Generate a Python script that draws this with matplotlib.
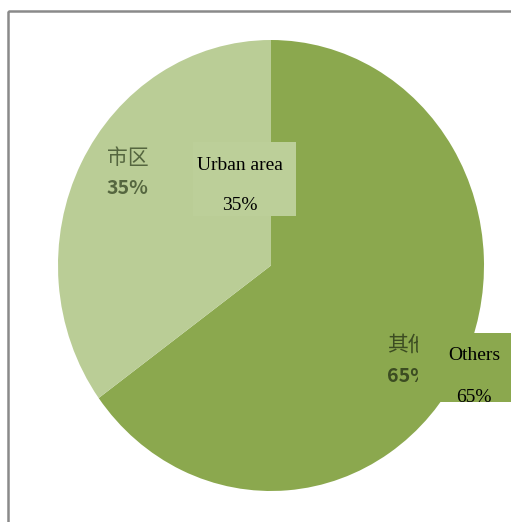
import matplotlib
matplotlib.use("Agg")
import matplotlib.pyplot as plt
from matplotlib.patches import Rectangle

categories_cn = ["其他", "市区"]
categories_en = ["Others", "Urban area"]
values = [65, 35]
colors = ["#8BA84E", "#BACD96"]

W, H = 511, 522
fig = plt.figure(figsize=(W / 100, H / 100), dpi=100)
fig.patch.set_facecolor("white")

# pie axes (elliptical pie as in the reference)
left, top, right, bottom = 58, 40, 484, 491
pax = fig.add_axes([left / W, 1 - bottom / H, (right - left) / W, (bottom - top) / H])
pax.pie(values, colors=colors, startangle=90, counterclock=False, radius=1,
        wedgeprops=dict(linewidth=0))
pax.set_aspect("auto")
pax.set_xlim(-1, 1)
pax.set_ylim(-1, 1)
pax.axis("off")

# overlay axes in pixel coordinates
ov = fig.add_axes([0, 0, 1, 1], zorder=5)
ov.set_xlim(0, W)
ov.set_ylim(H, 0)
ov.patch.set_alpha(0)
ov.axis("off")

# outer frame
ov.add_patch(Rectangle((8, 11), 560, 560, fill=False, edgecolor="#8a8a8a",
                       linewidth=1.8, zorder=1))

cjk = ["Noto Sans CJK SC", "DejaVu Sans"]
lab_col1 = "#55663f"
lab_col0 = "#3c4c22"
# Chinese data labels
ov.text(107, 158, categories_cn[1], family=cjk, fontsize=15, color=lab_col1,
        ha="left", va="center", zorder=2, fontweight="medium")
ov.text(107, 189, f"{values[1]}%", family=cjk, fontsize=14, color=lab_col1,
        ha="left", va="center", zorder=2, fontweight="bold")
ov.text(387, 345, categories_cn[0], family=cjk, fontsize=15, color=lab_col0,
        ha="left", va="center", zorder=2, fontweight="medium")
ov.text(387, 377, f"{values[0]}%", family=cjk, fontsize=14, color=lab_col0,
        ha="left", va="center", zorder=2, fontweight="bold")

# English boxes
serif = "Liberation Serif"
box1 = Rectangle((193, 142), 103, 74, facecolor="#BCCF99", edgecolor="none", zorder=3)
ov.add_patch(box1)
ov.text(240, 165, categories_en[1], family=serif, fontsize=14, color="black",
        ha="center", va="center", zorder=4)
ov.text(240, 206, f"{values[1]}%", family=serif, fontsize=14, color="black",
        ha="center", va="center", zorder=4)

box2 = Rectangle((418, 333), 100, 69, facecolor="#8BA84E", edgecolor="none", zorder=3)
ov.add_patch(box2)
ov.text(474, 355, categories_en[0], family=serif, fontsize=14, color="black",
        ha="center", va="center", zorder=4)
t = ov.text(474, 398, f"{values[0]}%", family=serif, fontsize=14, color="black",
            ha="center", va="center", zorder=4)
t.set_clip_path(box2)

fig.savefig("out.png", dpi=100, facecolor="white")
